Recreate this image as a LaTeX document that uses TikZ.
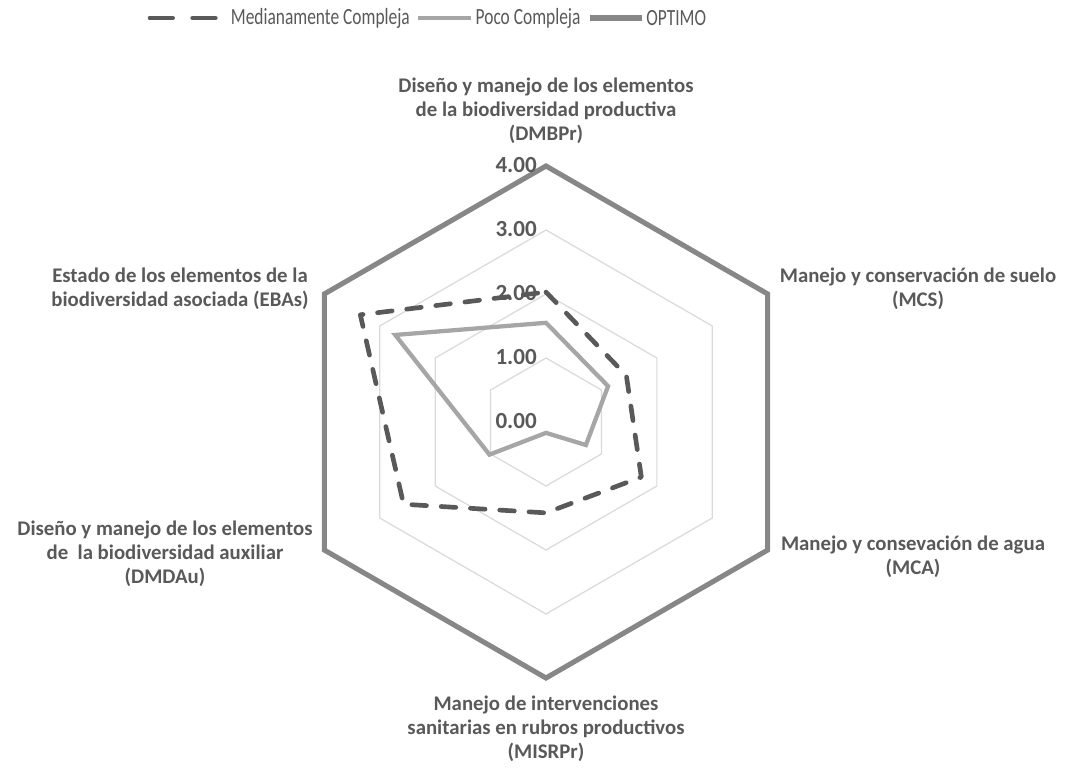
\documentclass[tikz,border=0pt]{standalone}
\usepackage{fontspec}
\setmainfont{Carlito}
\newfontfamily\legfont[FakeStretch=0.75]{Carlito}
\usetikzlibrary{positioning}
\definecolor{txtgray}{HTML}{595959}
\definecolor{medgray}{HTML}{595959}
\definecolor{pocogray}{HTML}{A6A6A6}
\definecolor{optgray}{HTML}{878787}
\definecolor{gridgray}{HTML}{D9D9D9}
\tikzset{
  gridline/.style={draw=gridgray, line width=0.9pt, line join=miter},
  optimo/.style={draw=optgray, line width=3.8pt, line join=miter},
  poco/.style={draw=pocogray, line width=3.2pt, line join=miter},
  mediana/.style={draw=medgray, line width=3.5pt, line cap=round, line join=round,
    dash pattern=on 11pt off 11pt},
  axlab/.style={font=\bfseries\fontsize{15.6}{17.8}\selectfont, text=txtgray, align=center, inner sep=0pt},
  ticklab/.style={font=\bfseries\fontsize{17.3}{19}\selectfont, text=txtgray, inner sep=0pt, anchor=east},
  leg/.style={font=\legfont\fontsize{17.4}{19}\selectfont, text=txtgray, inner sep=0pt, anchor=west}
}
\def\u{64}
\begin{document}
\begin{tikzpicture}[x=0.75pt, y=0.75pt]
\useasboundingbox (0,0) rectangle (1065,769);

% legend
\coordinate (lmedA) at (150,751);
\coordinate (lmedB) at (224,751);
\draw[mediana, dash pattern=on 17pt off 15pt] (lmedA) -- (lmedB);
\node[leg, right=5pt of lmedB] (legmed) {Medianamente Compleja};
\coordinate[right=6pt of legmed] (lpocoA);
\coordinate[right=40pt of lpocoA] (lpocoB);
\draw[poco] (lpocoA) -- (lpocoB);
\node[leg, right=3pt of lpocoB] (legpoco) {Poco Compleja};
\coordinate[right=7pt of legpoco] (loptA);
\coordinate[right=39pt of loptA] (loptB);
\draw[optimo] (loptA) -- (loptB);
\node[leg, right=3pt of loptB] (legopt) {OPTIMO};

\begin{scope}[shift={(546,347)}]
  % rejilla
  \foreach \r in {1,2,3}
    \draw[gridline] (90:\r*\u) -- (30:\r*\u) -- (-30:\r*\u) -- (-90:\r*\u)
      -- (-150:\r*\u) -- (150:\r*\u) -- cycle;

  % series
  \draw[poco] (90:{1.55*\u}) -- (30:{1.12*\u}) -- (-30:{0.72*\u}) -- (-90:{0.17*\u})
    -- (-150:{1.02*\u}) -- (150:{2.72*\u}) -- cycle;
  \draw[mediana] (90:{2.03*\u}) -- (30:{1.45*\u}) -- (-30:{1.72*\u}) -- (-90:{1.42*\u})
    -- (-150:{2.57*\u}) -- (150:{3.35*\u}) -- cycle;
  \draw[optimo] (90:4*\u) -- (30:4*\u) -- (-30:4*\u) -- (-90:4*\u)
    -- (-150:4*\u) -- (150:4*\u) -- cycle;

  % escala
  \foreach \v in {0,...,4}
    \node[ticklab] (tick\v) at (-9, \v*\u+1) {\v.00};

  % ejes
  \node[axlab] (dmbpr) at (0,311) {Diseño y manejo de los elementos\\de la biodiversidad productiva\\(DMBPr)};
  \node[axlab] (mcs) at (372,133) {Manejo y conservación de suelo\\(MCS)};
  \node[axlab] (mca) at (367,-135) {Manejo y consevación de agua\\(MCA)};
  \node[axlab] (misrpr) at (0,-307) {Manejo de intervenciones\\sanitarias en rubros productivos\\(MISRPr)};
  \node[axlab] (dmdau) at (-381,-132) {Diseño y manejo de los elementos\\de\ \ la biodiversidad auxiliar\\(DMDAu)};
  \node[axlab] (ebas) at (-366,133) {Estado de los elementos de la\\biodiversidad asociada (EBAs)};
\end{scope}
\end{tikzpicture}
\end{document}
